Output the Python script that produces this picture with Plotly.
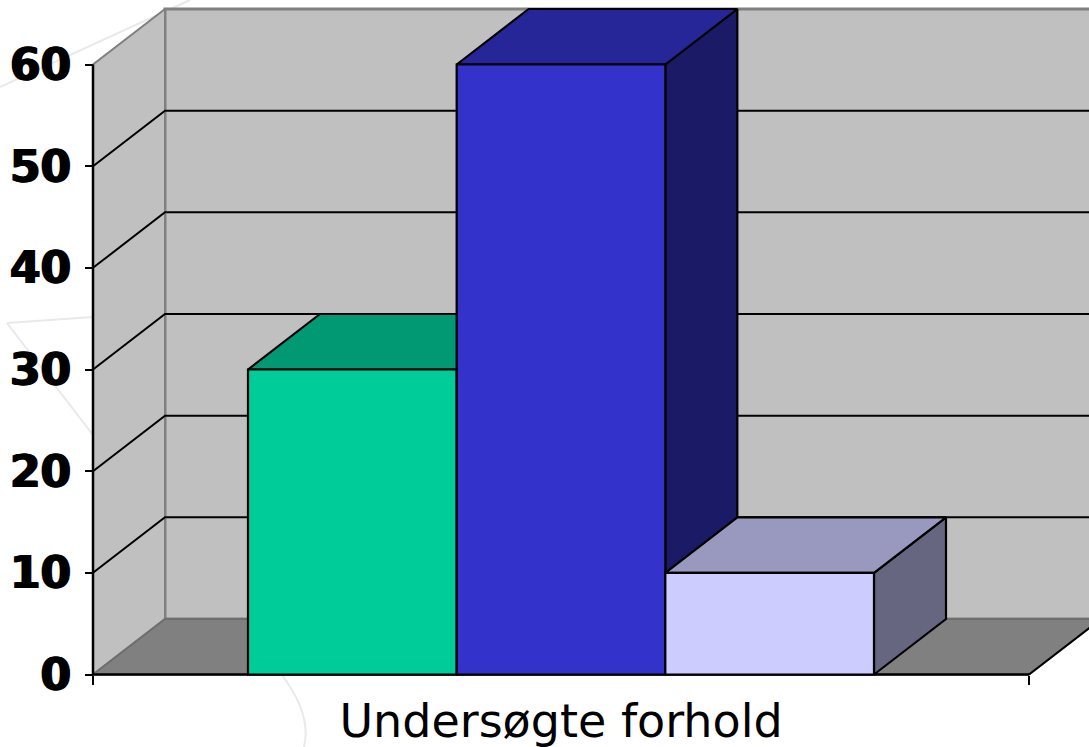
import plotly.graph_objects as go

category = ["Undersøgte forhold"]
series_values = [30, 60, 10]
front_colors = ["#00CC99", "#3333CC", "#CCCCFF"]
top_colors = ["#009973", "#262699", "#9999BF"]
side_colors = ["#00664D", "#1A1A66", "#666680"]
y_ticks = [0, 10, 20, 30, 40, 50, 60]

W, H = 1089, 747
X0, X1 = 93, 1029
Y0, Y60 = 674.5, 64.5
unit = (Y0 - Y60) / 60
span = X1 - X0
DX = 72 / span
DY = 55.5 / unit
xr = [-0.5 - X0 / span, 0.5 + (W - X1) / span]
yr = [(Y0 - H) / unit, Y0 / unit]
GAP = 310 / span
bw = (1 - GAP) / len(series_values)
L, R = -0.5, 0.5
TOP = max(y_ticks)

fig = go.Figure()


def poly(xs, ys, fill, line="black", lw=2.2):
    fig.add_trace(go.Scatter(x=xs, y=ys, mode="lines", fill="toself", fillcolor=fill,
                             line=dict(color=line, width=lw), hoverinfo="skip",
                             showlegend=False, xaxis="x", yaxis="y"))


def seg(xs, ys, color="black", lw=2):
    fig.add_trace(go.Scatter(x=xs, y=ys, mode="lines", line=dict(color=color, width=lw),
                             hoverinfo="skip", showlegend=False, xaxis="x", yaxis="y"))


# walls and floor
poly([L + DX, R + DX, R + DX, L + DX, L + DX], [DY, DY, TOP + DY, TOP + DY, DY], "#C0C0C0", "#808080", 3)
poly([L, L + DX, L + DX, L, L], [0, DY, TOP + DY, TOP, 0], "#C0C0C0", "#808080", 2)
poly([L, R, R + DX, L + DX, L], [0, 0, DY, DY, 0], "#808080", "#6E6E6E", 2)

# gridlines
for v in y_ticks[1:-1]:
    seg([L, L + DX, R + DX], [v, v + DY, v + DY])
seg([R, R + DX], [0, DY])

# depth faces of the bars
for i, v in enumerate(series_values):
    a = L + GAP / 2 + i * bw
    b = a + bw
    poly([b, b + DX, b + DX, b, b], [0, DY, v + DY, v, 0], side_colors[i])
    poly([a, b, b + DX, a + DX, a], [v, v, v + DY, v + DY, v], top_colors[i])

# axis lines
seg([L, L], [0, TOP], "black", 2.5)
seg([L, R], [0, 0], "black", 2.5)

# front faces
for i, v in enumerate(series_values):
    fig.add_trace(go.Bar(x=category, y=[v], marker=dict(color=front_colors[i], line=dict(color="black", width=2.2)),
                         showlegend=False, xaxis="x2", yaxis="y2"))

faint = dict(color="#E9E9E9", width=2)
fig.update_layout(
    width=W, height=H, margin=dict(l=0, r=0, t=0, b=0),
    paper_bgcolor="white", plot_bgcolor="rgba(0,0,0,0)", showlegend=False,
    barmode="group", bargap=GAP, bargroupgap=0,
    xaxis=dict(range=xr, visible=False, domain=[0, 1]),
    yaxis=dict(range=yr, visible=False, domain=[0, 1]),
    xaxis2=dict(type="category", range=xr, overlaying="x", anchor="free",
                position=(H - Y0) / H, tickson="boundaries", ticks="outside", ticklen=9, tickwidth=2,
                tickcolor="black", showgrid=False, zeroline=False, showline=False,
                ticklabelstandoff=15,
                tickfont=dict(family="DejaVu Sans", size=46, color="black")),
    yaxis2=dict(range=yr, overlaying="y", anchor="free", position=X0 / W, side="left",
                tickvals=y_ticks, ticks="outside", ticklen=8, tickwidth=2, tickcolor="black",
                ticklabelstandoff=5, showgrid=False, zeroline=False, showline=False,
                tickfont=dict(family="DejaVu Sans", size=44, color="black", weight="bold",
                              shadow="1px 0 0 black, -1px 0 0 black")),
    shapes=[
        dict(type="line", xref="paper", yref="paper", x0=0, y0=1 - 87 / H, x1=190 / W, y1=1, line=faint, layer="below"),
        dict(type="line", xref="paper", yref="paper", x0=7 / W, y0=1 - 323 / H, x1=93 / W, y1=1 - 317 / H, line=faint, layer="below"),
        dict(type="line", xref="paper", yref="paper", x0=7 / W, y0=1 - 323 / H, x1=93 / W, y1=1 - 435 / H, line=faint, layer="below"),
        dict(type="path", xref="paper", yref="paper",
             path=f"M {282 / W} {1 - 675 / H} Q {312 / W} {1 - 715 / H} {304 / W} 0", line=faint, layer="below"),
    ],
)
fig.write_html("out.html", post_script="document.body.style.margin='0';",
               config={"displayModeBar": False})
